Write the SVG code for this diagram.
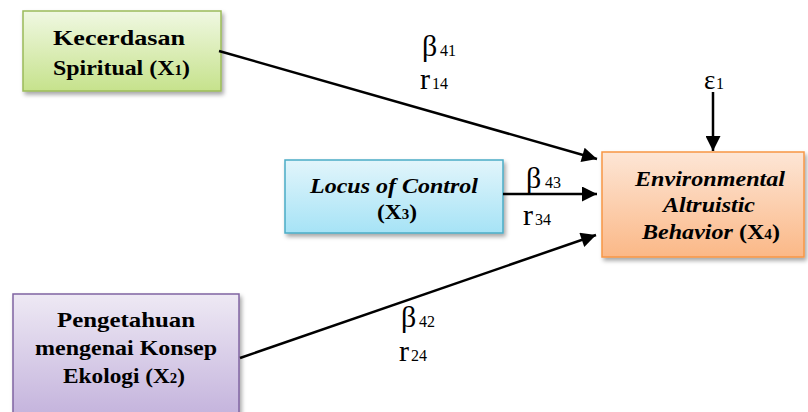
<svg xmlns="http://www.w3.org/2000/svg" width="808" height="412" viewBox="0 0 808 412">
<defs>
<linearGradient id="gG" x1="0" y1="0" x2="0" y2="1"><stop offset="0" stop-color="#f0f8e2"/><stop offset="1" stop-color="#c6e28c"/></linearGradient>
<linearGradient id="gB" x1="0" y1="0" x2="0" y2="1"><stop offset="0" stop-color="#e2f5fb"/><stop offset="1" stop-color="#a6e3f6"/></linearGradient>
<linearGradient id="gO" x1="0" y1="0" x2="0" y2="1"><stop offset="0" stop-color="#fde6d6"/><stop offset="1" stop-color="#fbb887"/></linearGradient>
<linearGradient id="gP" x1="0" y1="0" x2="0" y2="1"><stop offset="0" stop-color="#eee9f4"/><stop offset="1" stop-color="#c3b2dc"/></linearGradient>
<filter id="sh" x="-10%" y="-10%" width="130%" height="130%"><feDropShadow dx="2" dy="3" stdDeviation="2" flood-color="#000" flood-opacity="0.35"/></filter>
<marker id="ahL" viewBox="0 0 10 10" refX="10" refY="5" markerWidth="18" markerHeight="15" markerUnits="userSpaceOnUse" orient="auto"><path d="M0,0 L10,5 L0,10 z" fill="#000"/></marker>
</defs>
<g id="x1"><rect x="23" y="11" width="198" height="80" fill="url(#gG)" stroke="#9bbb59" stroke-width="1.5" filter="url(#sh)"/>
<g font-family="Liberation Serif" font-weight="bold" font-size="22" text-anchor="middle">
<text x="119" y="45" textLength="132" lengthAdjust="spacingAndGlyphs">Kecerdasan</text>
<text x="121.5" y="75" textLength="137" lengthAdjust="spacingAndGlyphs">Spiritual (X<tspan font-size="14">1</tspan>)</text></g></g>
<g id="x3"><rect x="285" y="160" width="218" height="73" fill="url(#gB)" stroke="#4bacc6" stroke-width="1.5" filter="url(#sh)"/>
<g font-family="Liberation Serif" font-weight="bold" font-size="22" text-anchor="middle">
<text font-style="italic" x="394" y="193" textLength="168" lengthAdjust="spacingAndGlyphs">Locus of Control</text>
<text x="397" y="219" textLength="40" lengthAdjust="spacingAndGlyphs">(X<tspan font-size="14">3</tspan>)</text></g></g>
<g id="x4"><rect x="602" y="152" width="202" height="105" fill="url(#gO)" stroke="#f79646" stroke-width="1.5" filter="url(#sh)"/>
<g font-family="Liberation Serif" font-weight="bold" font-size="22" text-anchor="middle">
<text font-style="italic" x="710" y="186" textLength="150" lengthAdjust="spacingAndGlyphs">Environmental</text>
<text font-style="italic" x="709" y="212" textLength="92" lengthAdjust="spacingAndGlyphs">Altruistic</text>
<text x="711" y="239" textLength="138" lengthAdjust="spacingAndGlyphs"><tspan font-style="italic">Behavior</tspan> (X<tspan font-size="14">4</tspan>)</text></g></g>
<g id="x2"><rect x="13" y="294" width="226" height="125" fill="url(#gP)" stroke="#8064a2" stroke-width="1.5" filter="url(#sh)"/>
<g font-family="Liberation Serif" font-weight="bold" font-size="22" text-anchor="middle">
<text x="126" y="327" textLength="138" lengthAdjust="spacingAndGlyphs">Pengetahuan</text>
<text x="126" y="355" textLength="182" lengthAdjust="spacingAndGlyphs">mengenai Konsep</text>
<text x="124" y="383" textLength="122" lengthAdjust="spacingAndGlyphs">Ekologi (X<tspan font-size="14">2</tspan>)</text></g></g>
<g id="connectors" stroke="#000" stroke-width="2.5" fill="none" marker-end="url(#ahL)">
<line x1="219" y1="51" x2="597" y2="159"/>
<line x1="503" y1="194" x2="597" y2="194"/>
<line x1="240" y1="358" x2="596" y2="235"/>
<line x1="713" y1="92" x2="713" y2="151"/>
</g>
<g id="labels" font-family="Liberation Serif" font-size="30">
<text x="422" y="56">β<tspan x="440" font-size="16">41</tspan></text>
<text x="420" y="89">r<tspan x="432" font-size="16">14</tspan></text>
<text x="526" y="188">β<tspan x="545" font-size="16">43</tspan></text>
<text x="523" y="225">r<tspan x="535" font-size="16">34</tspan></text>
<text x="401" y="327">β<tspan x="419" font-size="16">42</tspan></text>
<text x="399" y="361">r<tspan x="411" font-size="16">24</tspan></text>
<text x="704" y="89" font-size="27">ε<tspan x="716" font-size="16">1</tspan></text>
</g>
</svg>
